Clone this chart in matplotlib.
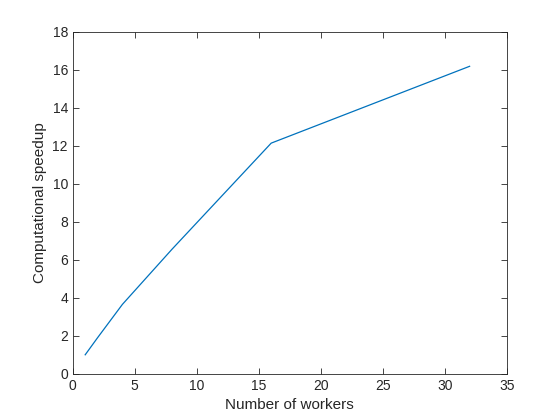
import matplotlib
matplotlib.use('Agg')
import matplotlib.pyplot as plt

# speedup vs number of workers
workers = [1, 2, 4, 8, 16, 32]
speedup = [1.0, 1.9, 3.65, 6.55, 12.13, 16.17]

plt.rcParams['font.family'] = ['Liberation Sans', 'DejaVu Sans']
plt.rcParams['font.size'] = 10

fig = plt.figure(figsize=(5.6, 4.2), dpi=100)
ax = fig.add_axes([0.13, 0.11, 0.775, 0.815])

ax.plot(workers, speedup, color='#0072BD', linewidth=0.9)

ax.set_xlim(0, 35)
ax.set_ylim(0, 18)
ax.set_xticks(range(0, 36, 5))
ax.set_yticks(range(0, 19, 2))

dark = '#262626'
for s in ax.spines.values():
    s.set_color(dark)
    s.set_linewidth(0.6)
ax.tick_params(direction='in', top=True, right=True, length=4, width=0.6,
               colors=dark, labelsize=10)

ax.set_xlabel('Number of workers', fontsize=11, color=dark)
ax.set_ylabel('Computational speedup', fontsize=11, color=dark)

fig.savefig('out.png', dpi=100)
